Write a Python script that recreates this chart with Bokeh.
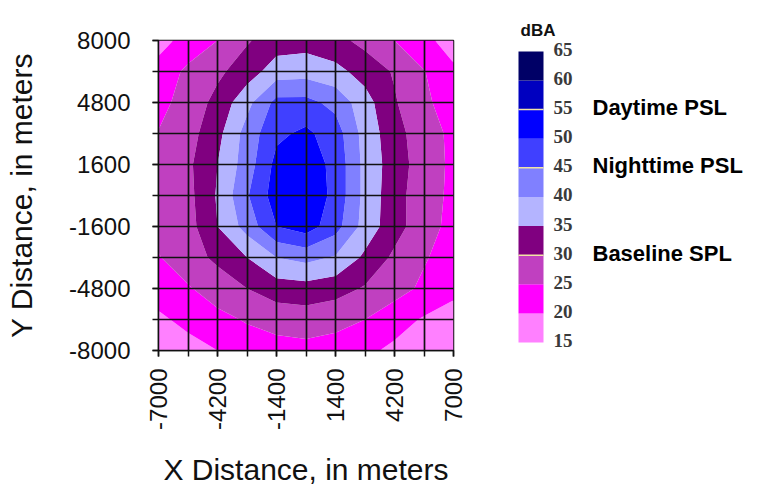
import math
import numpy as np
from bokeh.plotting import figure
from bokeh.layouts import row
from bokeh.models import Range1d, FixedTicker
from bokeh.core.properties import value
from bokeh.embed import file_html
from bokeh.resources import INLINE

# ---------------- data ----------------
x_nodes = [-7000, -5600, -4200, -2800, -1400, 0, 1400, 2800, 4200, 5600, 7000]
y_nodes = [8000, 6400, 4800, 3200, 1600, 0, -1600, -3200, -4800, -6400, -8000]  # top -> bottom

# sound level (dBA) at each grid node, one row per y_nodes entry
dba_y_8000 = [18.0, 22.0, 25.0, 29.5, 32.5, 33.0, 31.5, 28.5, 25.0, 21.5, 17.5]
dba_y_6400 = [22.0, 26.0, 29.0, 32.5, 37.5, 38.0, 36.5, 33.0, 29.5, 25.2, 21.0]
dba_y_4800 = [23.5, 27.0, 31.5, 38.5, 46.5, 46.5, 43.5, 37.0, 30.5, 25.8, 23.0]
dba_y_3200 = [25.2, 28.0, 33.5, 42.0, 49.0, 51.0, 47.5, 38.0, 32.0, 27.0, 24.0]
dba_y_1600 = [26.5, 29.0, 35.0, 42.5, 51.5, 53.0, 48.5, 38.5, 32.5, 27.5, 24.0]
dba_y_0 = [27.0, 28.5, 35.5, 44.5, 52.5, 54.0, 48.5, 38.5, 32.0, 27.0, 24.0]
dba_y_m1600 = [26.5, 28.0, 35.0, 42.0, 50.0, 52.5, 47.0, 38.0, 32.0, 27.0, 23.5]
dba_y_m3200 = [24.7, 28.0, 31.0, 35.0, 40.0, 41.5, 39.5, 34.0, 29.0, 25.5, 22.5]
dba_y_m4800 = [22.5, 24.5, 27.5, 30.0, 32.5, 33.0, 32.0, 29.5, 27.0, 24.0, 21.5]
dba_y_m6400 = [19.0, 21.5, 23.5, 25.5, 27.0, 27.5, 26.5, 25.0, 22.0, 19.5, 17.5]
dba_y_m8000 = [16.5, 18.0, 20.0, 22.0, 23.0, 23.5, 23.0, 21.0, 19.0, 17.0, 15.5]

x_tick_labels = [-7000, -4200, -1400, 1400, 4200, 7000]
y_tick_labels = [-8000, -4800, -1600, 1600, 4800, 8000]

levels = [15, 20, 25, 30, 35, 40, 45, 50, 55, 60, 65]
band_colors = ["#ff80ff", "#ff00ff", "#c040c0", "#800080", "#b4b4ff",
               "#8080ff", "#4040ff", "#0000ff", "#0000c0", "#000066"]
psl_levels = [55, 45, 30]
psl_names = ["Daytime PSL", "Nighttime PSL", "Baseline SPL"]
unit_label = "dBA"

# ---------------- main contour plot ----------------
FW, FH = 295, 310
LEFT, TOP, BOTTOM, RIGHT = 158, 40, 135, 40

p = figure(frame_width=FW, frame_height=FH,
           min_border_left=LEFT, min_border_top=TOP,
           min_border_bottom=BOTTOM, min_border_right=RIGHT,
           x_range=Range1d(x_nodes[0], x_nodes[-1]),
           y_range=Range1d(y_nodes[-1], y_nodes[0]),
           output_backend="svg", toolbar_location=None, tools="")

rows = [dba_y_8000, dba_y_6400, dba_y_4800, dba_y_3200, dba_y_1600, dba_y_0,
        dba_y_m1600, dba_y_m3200, dba_y_m4800, dba_y_m6400, dba_y_m8000]
z = np.array(rows, dtype=float)[::-1]
ys = np.array(y_nodes, dtype=float)[::-1]
xs = np.array(x_nodes, dtype=float)
p.contour(x=xs, y=ys, z=z, levels=levels, fill_color=band_colors)

p.xgrid.ticker = FixedTicker(ticks=x_nodes)
p.ygrid.ticker = FixedTicker(ticks=y_nodes)
p.grid.grid_line_color = "#111111"
p.grid.grid_line_width = 1.7
p.grid.level = "overlay"

p.xaxis.ticker = FixedTicker(ticks=x_tick_labels, minor_ticks=x_nodes)
p.yaxis.ticker = FixedTicker(ticks=y_tick_labels, minor_ticks=y_nodes)
p.xaxis.major_label_overrides = {v: str(v) for v in x_tick_labels}
p.yaxis.major_label_overrides = {v: str(v) for v in y_tick_labels}
p.axis.major_tick_out = 6
p.axis.major_tick_in = 0
p.axis.minor_tick_out = 6
p.axis.minor_tick_in = 0
p.axis.major_tick_line_color = "#111111"
p.axis.minor_tick_line_color = "#111111"
p.axis.major_tick_line_width = 1.5
p.axis.minor_tick_line_width = 1.5
p.axis.axis_line_color = "#111111"
p.axis.axis_line_width = 1.5
p.xaxis.major_label_orientation = math.pi / 2
p.axis.major_label_text_font = "Liberation Sans"
p.axis.major_label_text_font_size = "24px"
p.axis.major_label_text_color = "#111111"
p.xaxis.major_label_standoff = 12
p.yaxis.major_label_standoff = 22
p.xaxis.axis_label = "X Distance, in meters"
p.yaxis.axis_label = "Y Distance, in meters"
p.axis.axis_label_text_font = "Liberation Sans"
p.axis.axis_label_text_font_size = "30px"
p.axis.axis_label_text_font_style = "normal"
p.axis.axis_label_text_color = "#111111"
p.xaxis.axis_label_standoff = 20
p.yaxis.axis_label_standoff = 28
p.outline_line_color = "#111111"
p.outline_line_width = 1.5

# ---------------- colour key (frame aligned with the main frame) ----------------
LH = TOP + FH + BOTTOM
LW = 250
BAR_TOP_PX = 11                      # px below frame top where the highest level sits
BAR_BOTTOM_PX = 305                  # px below frame top where the lowest level sits
PX_PER_DB = (BAR_BOTTOM_PX - BAR_TOP_PX) / (levels[-1] - levels[0])
top_v = levels[-1] + BAR_TOP_PX / PX_PER_DB
bot_v = top_v - FH / PX_PER_DB

q = figure(width=LW, height=LH, x_range=Range1d(0, LW), y_range=Range1d(bot_v, top_v),
           min_border=0, min_border_top=TOP, min_border_bottom=BOTTOM,
           output_backend="svg", toolbar_location=None, tools="",
           x_axis_location=None, y_axis_location=None)
q.grid.visible = False
q.outline_line_color = None
q.title.text = unit_label
q.title.align = "left"
q.title.offset = 27
q.title.standoff = 2
q.title.text_font = "Liberation Sans"
q.title.text_font_style = "bold"
q.title.text_font_size = "17px"
q.title.text_color = "#111111"

q.quad(left=25, right=50, bottom=levels[:-1], top=levels[1:],
       fill_color=band_colors, line_color=None)
q.segment(x0=25, x1=50, y0=psl_levels, y1=psl_levels,
          line_color="#f2e4a6", line_width=1.5)
q.text(x=60, y=levels, text=[str(v) for v in levels],
       text_font=value("Liberation Serif"), text_font_style="bold",
       text_font_size="19px", text_color="#3a3a3a",
       text_baseline="middle", text_align="left", y_offset=-2)
q.text(x=99, y=psl_levels, text=psl_names,
       text_font=value("Liberation Sans"), text_font_style="bold",
       text_font_size="22px", text_color="#000000",
       text_baseline="middle", text_align="left", y_offset=-2)

layout = row(p, q)
open("out.html", "w").write(file_html(layout, INLINE))
